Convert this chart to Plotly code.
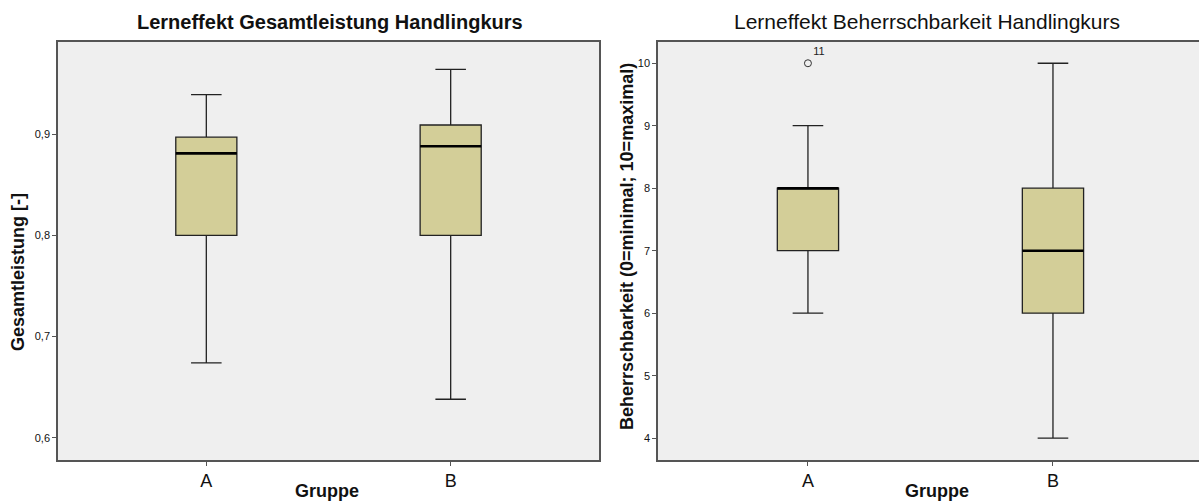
import plotly.graph_objects as go

groups = ["A", "B"]

# Panel 1: Gesamtleistung
g_low = [0.674, 0.638]
g_q1 = [0.800, 0.800]
g_med = [0.881, 0.888]
g_q3 = [0.897, 0.909]
g_high = [0.939, 0.964]

# Panel 2: Beherrschbarkeit
b_low = [6, 4]
b_q1 = [7, 6]
b_med = [8, 7]
b_q3 = [8, 8]
b_high = [9, 10]
b_out_group = ["A"]
b_out_val = [10]
b_out_label = ["11"]

FONT = "Liberation Sans, Arial, sans-serif"
BOXFILL = "#D3CE98"
LINE = "#222222"
W, H = 1199, 502

fig = go.Figure()

fig.add_trace(go.Box(
    x=groups, q1=g_q1, median=g_med, q3=g_q3, lowerfence=g_low, upperfence=g_high,
    fillcolor=BOXFILL, line=dict(color=LINE, width=1.3), width=0.25, whiskerwidth=0.5,
    boxpoints=False, xaxis="x", yaxis="y", showlegend=False, hoverinfo="skip"))

fig.add_trace(go.Box(
    x=groups, q1=b_q1, median=b_med, q3=b_q3, lowerfence=b_low, upperfence=b_high,
    fillcolor=BOXFILL, line=dict(color=LINE, width=1.3), width=0.25, whiskerwidth=0.5,
    boxpoints=False, xaxis="x2", yaxis="y2", showlegend=False, hoverinfo="skip"))

fig.add_trace(go.Scatter(
    x=b_out_group, y=b_out_val, mode="markers+text", text=b_out_label,
    textposition="top right", textfont=dict(family=FONT, size=11, color="#222"),
    marker=dict(symbol="circle-open", size=7, color="#333", line=dict(width=1)),
    xaxis="x2", yaxis="y2", showlegend=False, hoverinfo="skip", cliponaxis=False))

# thick median lines
shapes = []
for i, m in enumerate(g_med):
    shapes.append(dict(type="line", xref="x", yref="y", x0=i - 0.125, x1=i + 0.125,
                       y0=m, y1=m, line=dict(color="black", width=2.6)))
for i, m in enumerate(b_med):
    shapes.append(dict(type="line", xref="x2", yref="y2", x0=i - 0.125, x1=i + 0.125,
                       y0=m, y1=m, line=dict(color="black", width=2.6)))

ydom = [1 - 460 / H, 1 - 42 / H]
axis_common = dict(showline=True, linecolor="#555", linewidth=1.5,
                   showgrid=False, zeroline=False, ticks="outside", ticklen=4,
                   tickcolor="#555")


def ann(text, x, y, size, angle=0):
    return dict(text=text, x=x / W, y=1 - y / H, xref="paper", yref="paper",
                xanchor="center", yanchor="middle", showarrow=False, textangle=angle,
                font=dict(size=size, family=FONT, color="#111"))


fig.update_layout(
    width=W, height=H, margin=dict(l=0, r=0, t=0, b=0),
    paper_bgcolor="white", plot_bgcolor="#EFEFEF",
    separators=",.",
    font=dict(family=FONT, color="#111"),
    shapes=shapes,
    xaxis=dict(domain=[58 / W, 599 / W], range=[-0.607, 1.607], type="category",
               tickfont=dict(size=18, family=FONT), anchor="y", mirror=True,
               **axis_common),
    yaxis=dict(domain=ydom, range=[0.578, 0.991], tickvals=[0.6, 0.7, 0.8, 0.9],
               tickformat=".1f", tickfont=dict(size=11, family=FONT), anchor="x",
               mirror=True, **axis_common),
    xaxis2=dict(domain=[658 / W, 1.0], range=[-0.612, 1.596], type="category",
                tickfont=dict(size=18, family=FONT), anchor="y2", mirror=True,
                **axis_common),
    yaxis2=dict(domain=ydom, range=[3.65, 10.34], tickvals=[4, 5, 6, 7, 8, 9, 10],
                tickfont=dict(size=11, family=FONT), anchor="x2", mirror=False,
                **axis_common),
    annotations=[
        ann("<b>Lerneffekt Gesamtleistung Handlingkurs</b>", 330, 22, 20),
        ann("Lerneffekt Beherrschbarkeit Handlingkurs", 927, 22, 21),
        ann("<b>Gesamtleistung [-]</b>", 18, 272, 18, -90),
        ann("<b>Beherrschbarkeit (0=minimal; 10=maximal)</b>", 627, 247, 18, -90),
        ann("<b>Gruppe</b>", 327, 491, 18),
        ann("<b>Gruppe</b>", 937, 491, 18),
    ],
)

fig.write_html("out.html")
